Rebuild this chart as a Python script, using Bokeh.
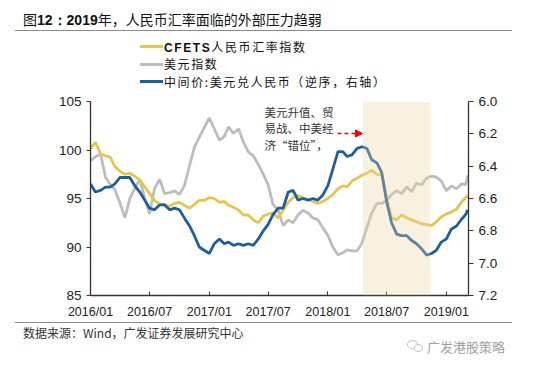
import pandas as pd
from bokeh.plotting import figure
from bokeh.layouts import column
from bokeh.models import (Range1d, LinearAxis, FixedTicker, DatetimeTickFormatter,
                          NumeralTickFormatter, BoxAnnotation, Label, Arrow, NormalHead,
                          ColumnDataSource, Div)
from bokeh.embed import file_html
from bokeh.resources import INLINE

# ---------------- data ----------------
dates = []
for yr in (2016, 2017, 2018, 2019):
    for mo in range(1, 13):
        for dd in (1, 16):
            d = f"{yr}-{mo:02d}-{dd:02d}"
            if d <= "2019-03-01":
                dates.append(d)
dates.append("2019-03-08")

cfets = [100.1, 100.8, 99.6, 99.4, 99.3, 98.3, 97.8, 97.5, 97.6, 97.3,
         96.9, 96.2, 95.5, 94.8, 94.4, 94.4, 94.2, 94.5, 94.6, 94.3,
         94.0, 94.4, 94.8, 94.8, 95.1, 95.0, 94.6, 94.7, 94.3, 94.1,
         93.8, 93.3, 93.3, 92.8, 92.5, 93.2, 93.4, 93.5, 93.0, 93.8,
         94.6, 95.1, 95.3, 95.1, 94.9, 94.7, 94.5, 94.7, 95.0, 95.4,
         96.0, 96.3, 96.2, 96.8, 97.1, 97.4, 97.6, 97.9, 97.5, 97.4,
         95.0, 93.0, 92.8, 93.3, 93.0, 92.8, 92.6, 92.4, 92.3, 92.2,
         92.6, 93.1, 93.4, 93.6, 93.9, 94.6, 95.1, 95.3]

usd_index = [98.9, 99.3, 99.6, 97.2, 96.5, 95.9, 94.5, 93.0, 95.0, 96.0,
             97.0, 95.0, 93.4, 96.0, 97.0, 95.5, 95.6, 95.8, 95.4, 96.3,
             98.4, 100.3, 101.3, 102.3, 103.3, 102.2, 101.0, 101.4, 102.4, 101.7,
             102.2, 100.8, 99.8, 99.4, 98.5, 97.5, 96.4, 94.4, 93.8, 92.2,
             92.8, 92.5, 93.3, 93.8, 93.5, 93.0, 92.8, 92.0, 91.2, 90.0,
             89.2, 89.4, 89.7, 89.6, 89.6, 90.4, 92.0, 93.5, 94.5, 94.5,
             94.8, 95.4, 95.8, 95.5, 96.2, 95.7, 96.6, 96.4, 97.1, 97.3,
             97.2, 96.8, 95.8, 96.3, 96.0, 96.5, 96.4, 97.4]

usdcny = [6.51, 6.56, 6.55, 6.53, 6.53, 6.51, 6.47, 6.47, 6.47, 6.52,
          6.56, 6.61, 6.66, 6.67, 6.64, 6.64, 6.67, 6.66, 6.67, 6.72,
          6.77, 6.83, 6.90, 6.92, 6.94, 6.88, 6.85, 6.88, 6.87, 6.89,
          6.88, 6.89, 6.88, 6.89, 6.85, 6.80, 6.76, 6.70, 6.66, 6.66,
          6.56, 6.55, 6.61, 6.60, 6.61, 6.60, 6.61, 6.58, 6.52, 6.42,
          6.31, 6.31, 6.34, 6.33, 6.29, 6.28, 6.29, 6.36, 6.38, 6.44,
          6.62, 6.75, 6.82, 6.83, 6.83, 6.86, 6.88, 6.91, 6.95, 6.94,
          6.92, 6.87, 6.85, 6.79, 6.77, 6.73, 6.70, 6.67]

x_tick_dates = ["2016-01-01", "2016-07-01", "2017-01-01", "2017-07-01",
                "2018-01-01", "2018-07-01", "2019-01-01"]
left_ticks = [85, 90, 95, 100, 105]
right_ticks = [6.0, 6.2, 6.4, 6.6, 6.8, 7.0, 7.2]
band_start, band_end = "2018-04-19", "2018-11-12"
x_start, x_end = "2016-01-01", "2019-03-10"

series_names = ["CFETS人民币汇率指数", "美元指数", "中间价:美元兑人民币（逆序，右轴）"]
title_text = "图12：2019年，人民币汇率面临的外部压力趋弱"
source_text = "数据来源：Wind，广发证券发展研究中心"
watermark_text = "广发港股策略"
note_lines = ["美元升值、贸", "易战、中美经", "济“错位”，"]

# ---------------- styling ----------------
C_GOLD = "#E6C54F"
C_GRAY = "#BDBDBD"
C_BLUE = "#1F5E9E"
CJK = "Noto Sans CJK SC"
LAT = "Liberation Sans"
W = 540


def ms(d):
    return pd.Timestamp(d).value // 10**6


src = ColumnDataSource(dict(date=pd.to_datetime(dates), cfets=cfets,
                            usd=usd_index, cny=usdcny))

p = figure(width=W, height=232, x_axis_type="datetime",
           x_range=Range1d(ms(x_start), ms(x_end)),
           y_range=Range1d(85, 105),
           output_backend="svg", toolbar_location=None,
           min_border_left=90, min_border_right=72,
           min_border_top=11, min_border_bottom=27, margin=0)
p.outline_line_color = None
p.xgrid.visible = False
p.ygrid.visible = False
p.background_fill_color = "white"
p.border_fill_color = "white"

p.extra_y_ranges = {"r": Range1d(7.2, 6.0)}

p.line("date", "usd", source=src, color=C_GRAY, line_width=2.8)
p.line("date", "cfets", source=src, color=C_GOLD, line_width=2.8)
p.line("date", "cny", source=src, color=C_BLUE, line_width=2.8, y_range_name="r")

p.add_layout(BoxAnnotation(left=ms(band_start), right=ms(band_end),
                           fill_color="#EBD49E", fill_alpha=0.32, line_alpha=0))

# axes
AX = "#333333"
xa = p.xaxis[0]
xa.ticker = FixedTicker(ticks=[ms(d) for d in x_tick_dates])
xa.formatter = DatetimeTickFormatter(days="%Y/%m", months="%Y/%m", years="%Y/%m")
xa.major_tick_in = 4
xa.major_tick_out = 0
xa.minor_tick_line_color = None
xa.major_label_standoff = 9
xa.axis_line_color = AX
xa.axis_line_width = 1.3
xa.major_tick_line_color = AX
xa.major_label_text_font = LAT
xa.major_label_text_font_size = "12.5px"
xa.major_label_text_color = "#222222"

ya = p.yaxis[0]
ya.ticker = FixedTicker(ticks=left_ticks)
ya.major_tick_in = 0
ya.major_tick_out = 4
ya.minor_tick_line_color = None
ya.major_label_standoff = 5
ya.axis_line_color = AX
ya.axis_line_width = 1.3
ya.major_tick_line_color = AX
ya.major_label_text_font = LAT
ya.major_label_text_font_size = "13.5px"
ya.major_label_text_color = "#222222"

ra = LinearAxis(y_range_name="r", ticker=FixedTicker(ticks=right_ticks),
                formatter=NumeralTickFormatter(format="0.0"))
ra.major_tick_in = 0
ra.major_tick_out = 5
ra.minor_tick_line_color = None
ra.major_label_standoff = 5
ra.axis_line_color = AX
ra.axis_line_width = 1.3
ra.major_tick_line_color = AX
ra.major_label_text_font = LAT
ra.major_label_text_font_size = "13.5px"
ra.major_label_text_color = "#222222"
p.add_layout(ra, "right")

# annotation inside the frame (screen coords relative to frame bottom-left)
for i, t in enumerate(note_lines):
    p.add_layout(Label(x=174, y=184 - 16.5 * i, x_units="screen", y_units="screen",
                       text=t, text_font=CJK, text_font_size="11.5px",
                       text_color="#333333", text_baseline="middle"))
p.add_layout(Arrow(end=NormalHead(size=7, fill_color="red", line_color="red"),
                   x_start=247, y_start=162, x_end=272, y_end=162,
                   start_units="screen", end_units="screen",
                   line_color="red", line_width=1.6, line_dash="4 3"))

# ---------------- header / footer as HTML ----------------
FONT = "font-family:'Noto Sans CJK SC',sans-serif;white-space:nowrap;position:absolute;"
BOLD = "<span style=\"font-family:'Liberation Sans',sans-serif;font-weight:bold;\">{}</span>"


def txt(x, yc, s, size, color, lh=14, extra=""):
    return (f"<div style=\"{FONT}left:{x}px;top:{yc - lh / 2}px;font-size:{size}px;"
            f"line-height:{lh}px;height:{lh}px;color:{color};{extra}\">{s}</div>")


def hline(x0, x1, y, color, h):
    return (f"<div style=\"position:absolute;left:{x0}px;top:{y - h / 2}px;width:{x1 - x0}px;"
            f"height:{h}px;background:{color};\"></div>")


def boldify(s, part):
    return s.replace(part, BOLD.format(part), 1)


head = [txt(23, 19, boldify(title_text, "12：2019"), 14, "#111111"),
        hline(15, 512, 30.7, "#8a8a8a", 1.2)]
for name, col, yc in zip(series_names, [C_GOLD, C_GRAY, C_BLUE], [46.5, 64.0, 81.5]):
    head.append(hline(140, 163, yc, col, 3))
    shown = boldify(name, "CFETS") if "CFETS" in name else name
    head.append(txt(164, yc, shown, 12, "#111111", lh=12, extra="letter-spacing:1.6px;"))
top_div = Div(text=f"<div style=\"position:relative;width:{W}px;height:90px;\">{''.join(head)}</div>",
              width=W, height=90, margin=0)

foot = [hline(15, 512, 0.6, "#8a8a8a", 1.2),
        txt(23, 11, source_text, 12, "#333333"),
        txt(427, 25, watermark_text, 13, "#a0a0a0"),
        "<div style=\"position:absolute;left:407px;top:18px;width:11px;height:9px;"
        "border:1.3px solid #c4c4c4;border-radius:50%;\"></div>",
        "<div style=\"position:absolute;left:414px;top:22px;width:9px;height:8px;"
        "border:1.3px solid #c4c4c4;border-radius:50%;background:white;\"></div>"]
bot_div = Div(text=f"<div style=\"position:relative;width:{W}px;height:40px;\">{''.join(foot)}</div>",
              width=W, height=40, margin=0)

layout = column(top_div, p, bot_div, spacing=0, margin=0)

open("out.html", "w").write(file_html(layout, INLINE))
